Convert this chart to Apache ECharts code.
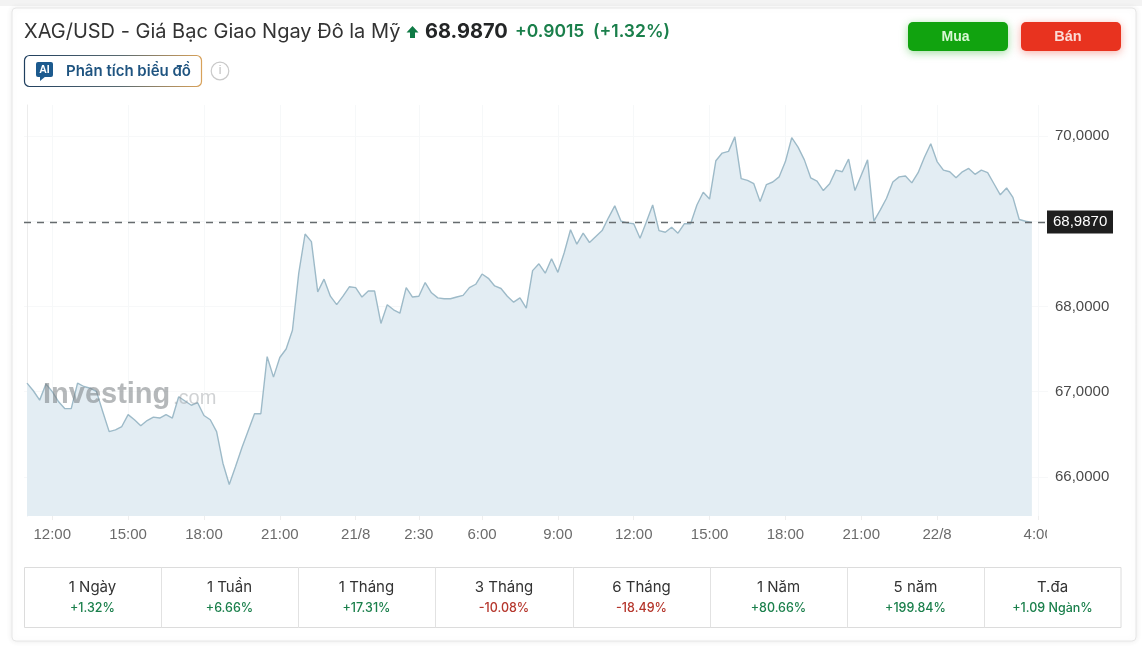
<!DOCTYPE html>
<html><head><meta charset="utf-8">
<style>html,body{margin:0;padding:0;background:#fff}#c{width:1142px;height:647px}</style>
<script src="https://cdn.jsdelivr.net/npm/echarts@6/dist/echarts.min.js"></script>
</head><body><div id="c"></div>
<script>
const prices = [
67.10,67.01,66.90,67.09,67.00,66.88,66.80,66.80,67.10,67.06,67.04,67.00,66.76,66.53,66.55,66.59,
66.73,66.67,66.60,66.66,66.70,66.69,66.73,66.69,66.94,66.89,66.84,66.87,66.72,66.67,66.53,66.16,
65.91,66.12,66.34,66.54,66.74,66.74,67.41,67.17,67.40,67.50,67.72,68.39,68.85,68.76,68.17,68.32,
68.12,68.02,68.12,68.23,68.22,68.11,68.18,68.18,67.80,68.02,67.96,67.92,68.22,68.11,68.12,68.28,
68.16,68.10,68.09,68.09,68.11,68.13,68.22,68.26,68.38,68.33,68.24,68.21,68.12,68.05,68.10,67.98,
68.42,68.50,68.39,68.56,68.40,68.63,68.90,68.73,68.86,68.75,68.82,68.89,69.04,69.18,69.00,68.98,
68.97,68.80,68.99,69.19,68.89,68.87,68.93,68.86,68.97,68.97,69.19,69.34,69.26,69.71,69.80,69.82,
69.99,69.50,69.48,69.44,69.23,69.43,69.46,69.52,69.70,69.98,69.87,69.72,69.51,69.47,69.36,69.44,
69.60,69.58,69.73,69.36,69.54,69.72,69.00,69.13,69.27,69.46,69.52,69.53,69.45,69.57,69.75,69.91,
69.70,69.60,69.58,69.51,69.58,69.62,69.55,69.60,69.57,69.44,69.31,69.39,69.28,69.02,69.00,68.987];
const lastPrice = 68.987;
const xTickIndex = [4,16,28,40,52,62,72,84,96,108,120,132,144,160];
const xTickLabels = ['12:00','15:00','18:00','21:00','21/8','2:30','6:00','9:00','12:00','15:00','18:00','21:00','22/8','4:00'];
const yTicks = [66,67,68,69,70];
const periods = ['1 Ngày','1 Tuần','1 Tháng','3 Tháng','6 Tháng','1 Năm','5 năm','T.đa'];
const changes = ['+1.32%','+6.66%','+17.31%','-10.08%','-18.49%','+80.66%','+199.84%','+1.09 Ngàn%'];

const SANS = 'Inter, "Noto Sans", sans-serif';
const ARIAL = '"Liberation Sans", Arial, sans-serif';
const GREEN = '#1a7f4b', RED = '#b5362c';
const fmt = v => v.toFixed(4).replace('.', ',');

const g = [];
const rect = (x,y,w,h,style,r,z) => g.push({type:'rect',silent:true,z:z||0,shape:{x,y,width:w,height:h,r:r||0},style});
const text = (x,y,t,font,fill,align,z) => g.push({type:'text',silent:true,z:z||5,x,y,style:{text:t,font,fill,align:align||'left',verticalAlign:'middle'}});

// page card
rect(0,0,1142,6,{fill:'#f3f3f3'},0,-10);
rect(12,8,1124,633,{fill:'#fff',stroke:'#e6e6e6',lineWidth:1,shadowBlur:6,shadowColor:'rgba(0,0,0,.08)'},4,-9);
// header
text(24,32,'XAG/USD - Giá Bạc Giao Ngay Đô la Mỹ','400 20px '+SANS,'#333');
g.push({type:'polygon',silent:true,z:5,shape:{points:[[412.5,26],[418.5,32.5],[415,32.5],[415,38],[410,38],[410,32.5],[406.5,32.5]]},style:{fill:'#0f7a45'}});
text(425,32,'68.9870','700 20px '+SANS,'#232526');
text(515,32,'+0.9015','600 17.5px '+SANS,GREEN);
text(593,32,'(+1.32%)','600 17.5px '+SANS,GREEN);
// AI button
rect(24.5,55.5,177,31,{fill:'#fff',lineWidth:1.2,stroke:{type:'linear',x:0,y:0,x2:1,y2:0,colorStops:[{offset:0,color:'#1f3f5f'},{offset:.55,color:'#5a6a70'},{offset:1,color:'#d9a25a'}]}},5);
rect(36,62,17,15,{fill:'#1c5a8e'},2,3);
g.push({type:'polygon',silent:true,z:3,shape:{points:[[40,76],[46,76],[40,81]]},style:{fill:'#1c5a8e'}});
text(44.5,70,'AI','700 10.5px '+ARIAL,'#fff','center');
text(66,71,'Phân tích biểu đồ','600 15px '+SANS,'#1f5480');
g.push({type:'circle',silent:true,z:3,shape:{cx:220,cy:71,r:8.8},style:{fill:'#fff',stroke:'#c9c9c9',lineWidth:1.2}});
text(220,71,'i','400 12px '+ARIAL,'#bcbcbc','center');
// buttons
rect(908,22,100,29,{fill:'#11a30f',shadowBlur:8,shadowColor:'rgba(20,170,20,.4)',shadowOffsetY:2},5,2);
text(955.5,37,'Mua','700 14px '+ARIAL,'#d9f7d4','center');
rect(1021,22,100,29,{fill:'#e8331f',shadowBlur:8,shadowColor:'rgba(235,60,40,.4)',shadowOffsetY:2},5,2);
text(1068,37,'Bán','700 14.5px '+ARIAL,'#fbdcd6','center');
// watermark sits over the area fill
text(43,395,'Investing','700 29px '+ARIAL,'rgba(120,125,130,.55)','left',3);
text(173,398,'.com','400 20px '+ARIAL,'rgba(150,155,160,.45)','left',3);
// hide the clipped part of the last time label
rect(1047,524,20,22,{fill:'#fff'},0,50);
// period table
const cellX = [24,161,298,435,573,710,847,984,1121];
rect(24.5,567.5,1096.5,60,{fill:'#fff',stroke:'#dcdcdc',lineWidth:1},0,1);
periods.forEach((p,i)=>{
  if(i>0) g.push({type:'line',silent:true,z:2,shape:{x1:cellX[i]+.5,y1:567.5,x2:cellX[i]+.5,y2:627.5},style:{stroke:'#e2e2e2',lineWidth:1}});
  const cx=(cellX[i]+cellX[i+1])/2;
  text(cx,587,p,'400 15px '+SANS,'#333','center');
  text(cx,608,changes[i],'500 12.5px '+SANS,changes[i][0]==='-'?RED:GREEN,'center');
});

const chart = echarts.init(document.getElementById('c'),null,{renderer:'canvas'});
chart.setOption({
  animation:false,
  backgroundColor:'#fff',
  grid:{left:24,right:94,top:105,bottom:131,containLabel:false},
  xAxis:{type:'value',min:-0.475,max:161.55,
    axisLine:{show:false},
    axisTick:{show:true,length:4,lineStyle:{color:'#eeeeee'},customValues:xTickIndex},
    splitLine:{show:true,lineStyle:{color:'#f6f8f9',width:1}},
    axisLabel:{customValues:xTickIndex,margin:11,fontFamily:ARIAL,fontSize:15,color:'#6b6b6b',showMinLabel:true,showMaxLabel:true,
      formatter:v=>xTickLabels[xTickIndex.indexOf(v)]||''}},
  yAxis:{type:'value',position:'right',min:65.54,max:70.364,
    axisLine:{show:true,lineStyle:{color:'#ececec'}},
    axisTick:{show:false,customValues:yTicks},
    splitLine:{show:true,lineStyle:{color:'#f7f8f9',width:1}},
    axisLabel:{customValues:yTicks,margin:7,fontFamily:ARIAL,fontSize:15,color:'#4a4a4a',formatter:v=>fmt(v)}},
  series:[{type:'line',data:prices.map((v,i)=>[i,v]),showSymbol:false,smooth:false,
    lineStyle:{color:'#9dbac8',width:1.4},
    areaStyle:{color:'#e3edf3',opacity:1},
    z:2,
    markLine:{silent:true,symbol:'none',animation:false,
      lineStyle:{color:'#666b6e',type:[7,6],width:1.3},
      label:{position:'end',distance:-1,formatter:()=>fmt(lastPrice),color:'#fff',backgroundColor:'#1f1f1f',fontFamily:ARIAL,fontSize:15,padding:[4,3,4,6],width:57,align:'left'},
      data:[{yAxis:lastPrice}]}}],
  graphic:{elements:g}
});
</script></body></html>
